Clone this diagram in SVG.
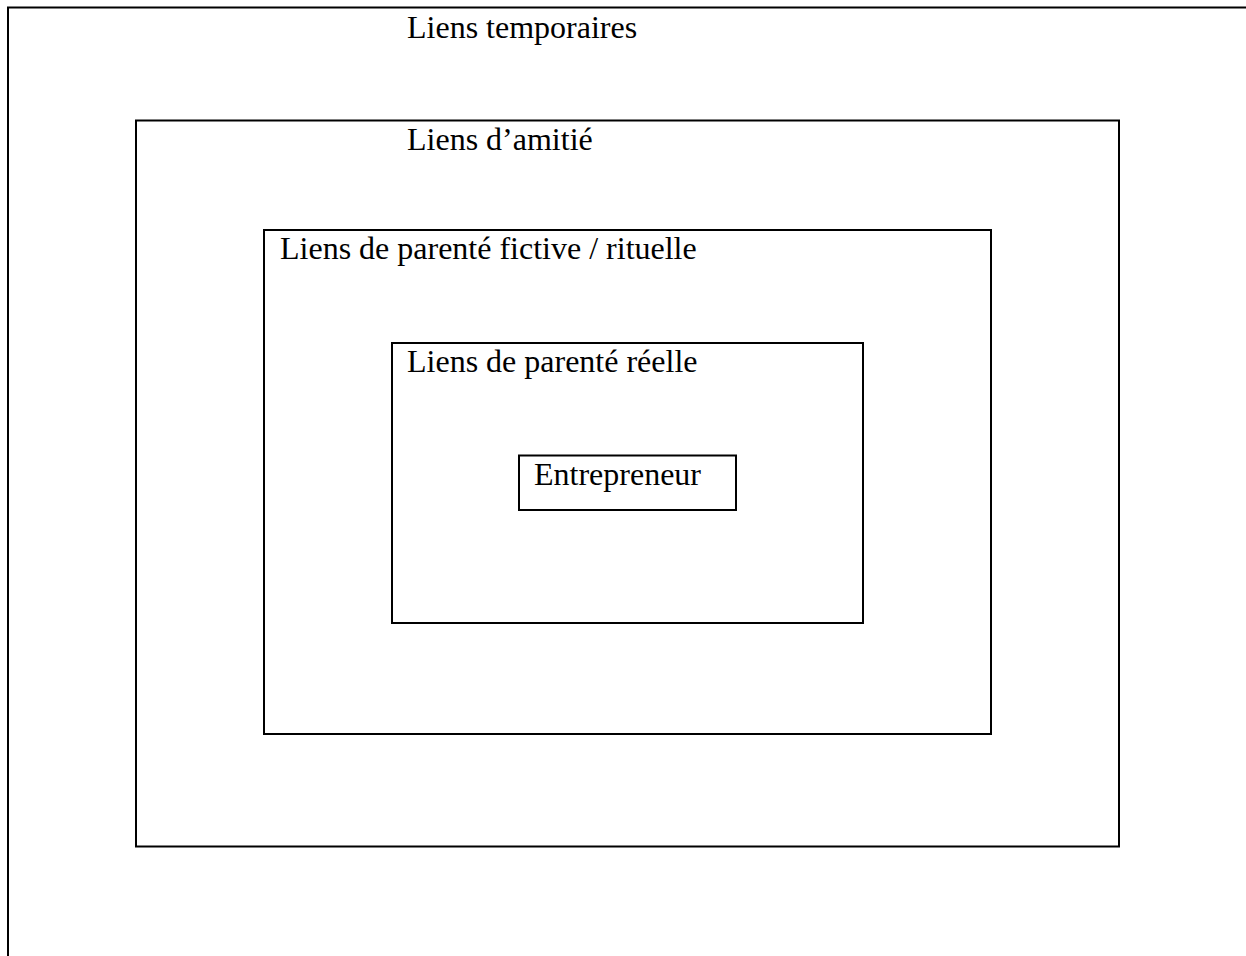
<svg xmlns="http://www.w3.org/2000/svg" width="1246" height="956" viewBox="0 0 1246 956">
<style>
.b{fill:none;stroke:#000;stroke-width:2}
.t{font-family:"Liberation Serif","Times New Roman",serif;font-size:32px;fill:#000}
</style>
<rect width="1246" height="956" fill="#fff"/>
<g id="temporaires">
<path class="b" d="M8,956 V7.5 H1246"/>
<text class="t" x="407" y="38">Liens temporaires</text>
</g>
<g id="amitie">
<rect class="b" x="136" y="120.5" width="983" height="726"/>
<text class="t" x="407" y="150">Liens d’amitié</text>
</g>
<g id="fictive">
<rect class="b" x="264" y="230" width="727" height="504"/>
<text class="t" x="280" y="259">Liens de parenté fictive / rituelle</text>
</g>
<g id="reelle">
<rect class="b" x="392" y="343" width="471" height="280"/>
<text class="t" x="407" y="372">Liens de parenté réelle</text>
</g>
<g id="entrepreneur">
<rect class="b" x="519" y="455.5" width="217" height="54.5"/>
<text class="t" x="534" y="485">Entrepreneur</text>
</g>
<g id="connectors"/>
</svg>
